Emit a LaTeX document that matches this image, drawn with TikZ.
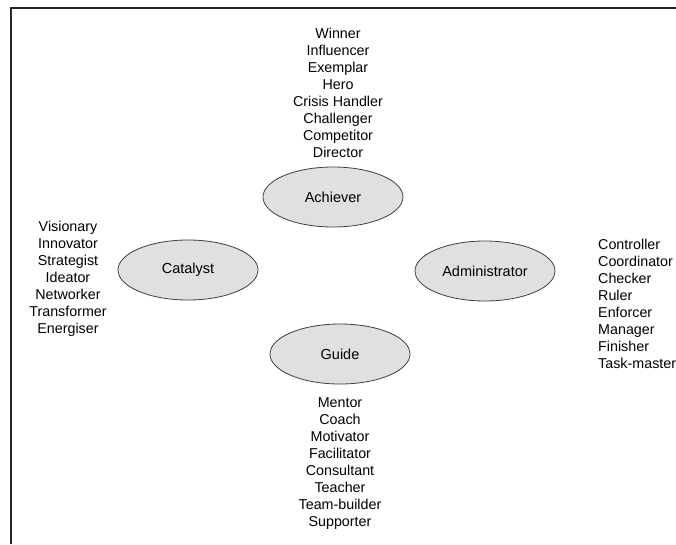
\documentclass[tikz,border=0pt]{standalone}
\usepackage{fontspec}
\setmainfont{Liberation Sans}
\usetikzlibrary{shapes.geometric}
\begin{document}
\begin{tikzpicture}[x=1pt,y=-1pt,
  role/.style={ellipse,draw=black!75,line width=0.8pt,fill=black!12,minimum width=140pt,minimum height=60pt,inner sep=0pt,font=\fontsize{14.5}{16}\selectfont},
  roles/.style={inner sep=0pt,font=\fontsize{14.3}{17}\selectfont}]
\useasboundingbox (0,0) rectangle (676,544);
\fill[white] (0,0) rectangle (676,544);
\draw[line width=2.5pt,black!85] (676,8) -- (11,8) -- (11,544);
\node[role] (ach) at (333,197) {Achiever};
\node[role] (cat) at (188,270) {Catalyst};
\node[role] (adm) at (485,271) {Administrator};
\node[role] (gui) at (340,354) {Guide};
\node[roles,align=center] (achl) at (338,92.5) {Winner\\Influencer\\Exemplar\\Hero\\Crisis Handler\\Challenger\\Competitor\\Director};
\node[roles,align=center] (catl) at (68,279) {Visionary\\Innovator\\Strategist\\Ideator\\Networker\\Transformer\\Energiser};
\node[roles,align=left,anchor=west] (adml) at (598,303.5) {Controller\\Coordinator\\Checker\\Ruler\\Enforcer\\Manager\\Finisher\\Task-master};
\node[roles,align=center] (guil) at (340,463.5) {Mentor\\Coach\\Motivator\\Facilitator\\Consultant\\Teacher\\Team-builder\\Supporter};
\end{tikzpicture}
\end{document}
